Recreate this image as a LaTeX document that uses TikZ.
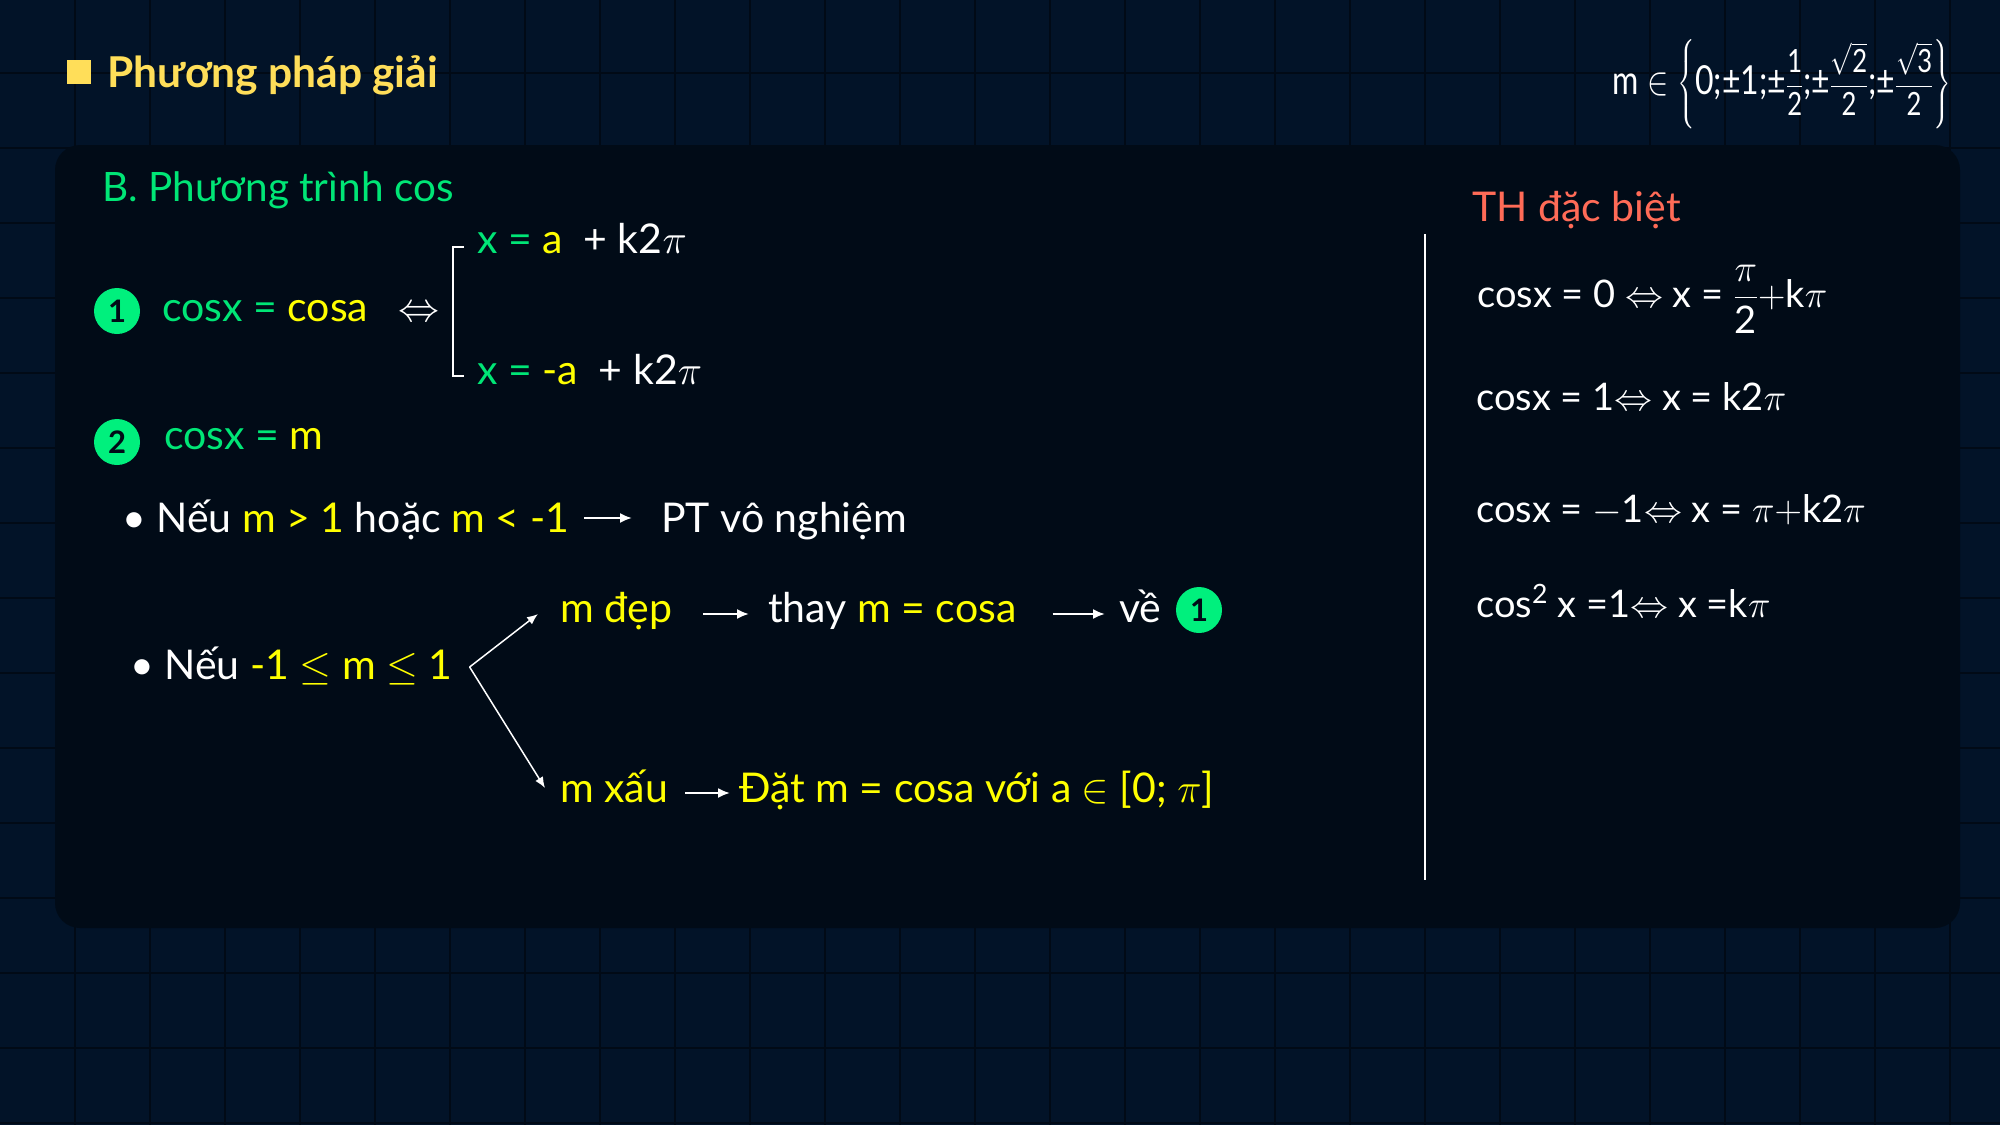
\RequirePackage{fix-cm}
\documentclass[tikz,border=0pt]{standalone}
\usepackage{amsmath}
\usepackage{graphicx}
\usepackage{fontspec}
\setmainfont{Lato}
\usetikzlibrary{arrows.meta}
\definecolor{bgcell}{RGB}{2,19,40}
\definecolor{bgline}{RGB}{1,10,22}
\definecolor{panelbg}{RGB}{1,11,23}
\definecolor{titleyel}{RGB}{255,222,89}
\definecolor{mint}{RGB}{0,230,118}
\definecolor{dotgreen}{RGB}{0,240,125}
\definecolor{yel}{RGB}{255,255,0}
\definecolor{salmon}{RGB}{255,107,87}
\newcommand{\setfrac}[2]{\text{\fontsize{32}{36}\selectfont$\dfrac{\text{#1}}{\text{#2}}$}}
\begin{document}
\begin{tikzpicture}[x=1pt,y=-1pt,
    txt/.style={anchor=base west,inner sep=0pt,text=white,font=\fontsize{41}{48}\selectfont},
    spec/.style={txt,font=\fontsize{38}{46}\selectfont},
    numdot/.style={circle,fill=dotgreen,minimum size=46pt,inner sep=0pt,text=panelbg,font=\fontsize{31}{36}\selectfont\bfseries},
    arr/.style={-{Latex[length=12pt,width=10pt]},white,line width=2pt},
    thinarr/.style={-{Latex[length=11pt,width=9pt]},white,line width=1.5pt}]
    \useasboundingbox (0,0) rectangle (2000,1125);
    \fill[bgcell] (0,0) rectangle (2000,1125);
    \foreach \gx in {75,150,...,1950} \draw[bgline,line width=2pt] (\gx,0) -- (\gx,1125);
    \foreach \gy in {73,148,...,1123} \draw[bgline,line width=2pt] (0,\gy) -- (2000,\gy);
    \fill[panelbg,rounded corners=25pt] (55,145) rectangle (1960,928);
    \fill[titleyel] (67,60) rectangle (91,84);
    \node[txt,text=titleyel,font=\fontsize{42.5}{50}\selectfont\bfseries] (title) at (107,87) {Phương pháp giải};
    \node[txt,font=\fontsize{40}{48}\selectfont] (mset) at (1612,94) {\scalebox{0.8}[1]{$\text{m}\in\left\{\text{0;±1;±}\setfrac{1}{2}\text{;±}\setfrac{$\sqrt{\text{2}}$}{2}\text{;±}\setfrac{$\sqrt{\text{3}}$}{2}\right\}$}};
    \node[txt,text=mint,font=\fontsize{40.5}{48}\selectfont] (head) at (102,201) {B. Phương trình cos};
    \node[numdot] (c1) at (117,311) {1};
    \node[txt,text=mint] (eq1) at (162,321) {cosx = \textcolor{yel}{cosa}};
    \node[txt] (iff) at (398,321) {$\Leftrightarrow$};
    \draw[white,line width=2pt] (464,247) -- (453,247) -- (453,376) -- (464,376);
    \node[txt,text=mint] (br1) at (477,253) {x = \textcolor{yel}{a} \textcolor{white}{\ + k2$\pi$}};
    \node[txt,text=mint] (br2) at (477,384) {x = \textcolor{yel}{-a} \textcolor{white}{\ + k2$\pi$}};
    \node[numdot] (c2) at (117,442) {2};
    \node[txt,text=mint] (eq2) at (164,449) {cosx = \textcolor{yel}{m}};
    \node[txt] (case1) at (122,532) {• Nếu \textcolor{yel}{m > 1} hoặc \textcolor{yel}{m < -1}};
    \node[txt] (pt) at (661,532) {PT vô nghiệm};
    \node[txt] (case2) at (130,679) {• Nếu \textcolor{yel}{-1 $\le$ m $\le$ 1}};
    \node[txt,text=yel] (dep) at (560,622) {m đẹp};
    \node[txt] (thay) at (768,622) {thay \textcolor{yel}{m = cosa}};
    \node[txt] (ve) at (1119,622) {về};
    \node[numdot] (c3) at (1199,610) {1};
    \node[txt,text=yel] (xau) at (560,802) {m xấu};
    \node[txt,text=yel] (dat) at (739,802) {Đặt m = cosa với a $\in$ [0; $\pi$]};
    \draw[arr,shorten <=15pt,shorten >=29pt] ([yshift=14pt]case1.base east) -- ([yshift=14pt]pt.base west);
    \draw[thinarr] ([shift={(17,-12)}]case2.base east) -- ([shift={(-22,-8)}]dep.base west);
    \draw[thinarr] ([shift={(17,-12)}]case2.base east) -- ([shift={(-15,-14)}]xau.base west);
    \draw[arr,shorten <=31pt,shorten >=19pt] ([yshift=8pt]dep.base east) -- ([yshift=8pt]thay.base west);
    \draw[arr,shorten <=36pt,shorten >=14pt] ([yshift=8pt]thay.base east) -- ([yshift=8pt]ve.base west);
    \draw[arr,shorten <=17pt,shorten >=9pt] ([yshift=9pt]xau.base east) -- ([yshift=9pt]dat.base west);
    \draw[white,line width=2.5pt] (1425,234) -- (1425,880);
    \node[txt,text=salmon] (th) at (1472,221) {TH đặc biệt};
    \node[spec] (sp1) at (1477,307) {cosx = 0 $\Leftrightarrow$ x = $\dfrac{\pi}{\text{2}}+$k$\pi$};
    \node[spec] (sp2) at (1476,410) {cosx = 1$\Leftrightarrow$ x = k2$\pi$};
    \node[spec] (sp3) at (1476,522) {cosx = $-$1$\Leftrightarrow$ x = $\pi+$k2$\pi$};
    \node[spec] (sp4) at (1476,617) {cos$^{\text{2}}$ x =1$\Leftrightarrow$ x =k$\pi$};
\end{tikzpicture}
\end{document}
